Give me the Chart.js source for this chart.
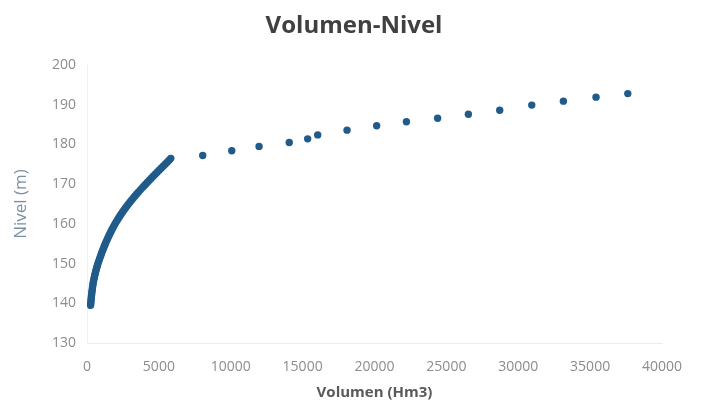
<!DOCTYPE html>
<html>
<head>
<meta charset="utf-8">
<script src="https://cdn.jsdelivr.net/npm/chart.js@4/dist/chart.umd.min.js"></script>
<style>
  html, body { margin: 0; padding: 0; background: #ffffff; }
  #wrap { width: 708px; height: 408px; }
</style>
</head>
<body>
<div id="wrap"><canvas id="c" width="708" height="408"></canvas></div>
<script>
// Curva volumen-nivel del embalse: volumen (Hm3) y nivel (m)
const volumen = [
  250, 262, 275, 288, 302, 316, 331, 347, 364, 382, 402, 424,
  450, 477, 506, 537, 570, 605, 642, 681, 722, 765, 810, 857,
  905, 954, 1004, 1055, 1108, 1162, 1218, 1276, 1336, 1398,
  1461, 1525, 1591, 1659, 1729, 1801, 1875, 1952, 2032, 2115,
  2201, 2290, 2382, 2477, 2575, 2676, 2780, 2887, 2997,
  3109, 3223, 3339, 3457, 3577, 3699, 3823, 3949,
  4077, 4207, 4339, 4473, 4608, 4744, 4881, 5019, 5158, 5298,
  5438, 5578, 5710, 5830,
  8050, 10070, 11970, 14070, 15350, 16050, 18090, 20150,
  22220, 24390, 26530, 28710, 30940, 33140, 35410, 37620
];
const nivel = [
  139.5, 140, 140.5, 141, 141.5, 142, 142.5, 143, 143.5, 144, 144.5, 145,
  145.5, 146, 146.5, 147, 147.5, 148, 148.5, 149, 149.5, 150, 150.5, 151,
  151.5, 152, 152.5, 153, 153.5, 154, 154.5, 155, 155.5, 156,
  156.5, 157, 157.5, 158, 158.5, 159, 159.5, 160, 160.5, 161,
  161.5, 162, 162.5, 163, 163.5, 164, 164.5, 165, 165.5,
  166, 166.5, 167, 167.5, 168, 168.5, 169, 169.5,
  170, 170.5, 171, 171.5, 172, 172.5, 173, 173.5, 174, 174.5,
  175, 175.5, 176, 176.5,
  177.2, 178.4, 179.5, 180.5, 181.4, 182.4, 183.6, 184.7,
  185.7, 186.6, 187.6, 188.6, 189.9, 190.9, 191.9, 192.8
];
const xTicks = [0, 5000, 10000, 15000, 20000, 25000, 30000, 35000, 40000];
const yTicks = [130, 140, 150, 160, 170, 180, 190, 200];

const puntos = volumen.map((v, i) => ({ x: v, y: nivel[i] }));

new Chart(document.getElementById('c'), {
  type: 'scatter',
  data: {
    datasets: [{
      label: 'Nivel',
      data: puntos,
      pointRadius: 3.7,
      pointHoverRadius: 3.7,
      pointBackgroundColor: '#205b8a',
      pointBorderWidth: 0,
      showLine: false
    }]
  },
  options: {
    responsive: false,
    animation: false,
    devicePixelRatio: 1,
    layout: { padding: 0 },
    plugins: {
      legend: { display: false },
      tooltip: { enabled: false },
      title: {
        display: true,
        text: 'Volumen-Nivel',
        color: '#404040',
        font: { family: 'Open Sans', size: 24, weight: 'bold', lineHeight: 1.2 },
        padding: { top: 12, bottom: 24.2 }
      }
    },
    scales: {
      x: {
        type: 'linear',
        min: xTicks[0],
        max: xTicks[xTicks.length - 1],
        afterBuildTicks: s => { s.ticks = xTicks.map(v => ({ value: v })); },
        afterFit: s => { s.height = 65; s.paddingRight = 46; },
        grid: { display: false, drawTicks: false, tickLength: 0 },
        border: { display: true, color: '#ececec', width: 1 },
        ticks: {
          color: '#8c8c8c',
          padding: 16,
          maxRotation: 0,
          font: { family: 'Open Sans', size: 14 },
          callback: v => String(v)
        },
        title: {
          display: true,
          text: 'Volumen (Hm3)',
          color: '#595959',
          font: { family: 'Open Sans', size: 15, weight: 'bold', lineHeight: 1.2 },
          padding: { top: 4, bottom: 6 }
        }
      },
      y: {
        type: 'linear',
        min: yTicks[0],
        max: yTicks[yTicks.length - 1],
        afterBuildTicks: s => { s.ticks = yTicks.map(v => ({ value: v })); },
        afterFit: s => { s.width = 87; },
        grid: { display: false, drawTicks: false, tickLength: 0 },
        border: { display: true, color: '#f0f0f0', width: 1 },
        ticks: {
          color: '#8c8c8c',
          padding: 11,
          font: { family: 'Open Sans', size: 14 },
          callback: v => String(v)
        },
        title: {
          display: true,
          text: 'Nivel (m)',
          color: '#7a8fa3',
          font: { family: 'Open Sans', size: 17, lineHeight: 1.2 },
          padding: { top: 11, bottom: 4 }
        }
      }
    }
  }
});
</script>
</body>
</html>
